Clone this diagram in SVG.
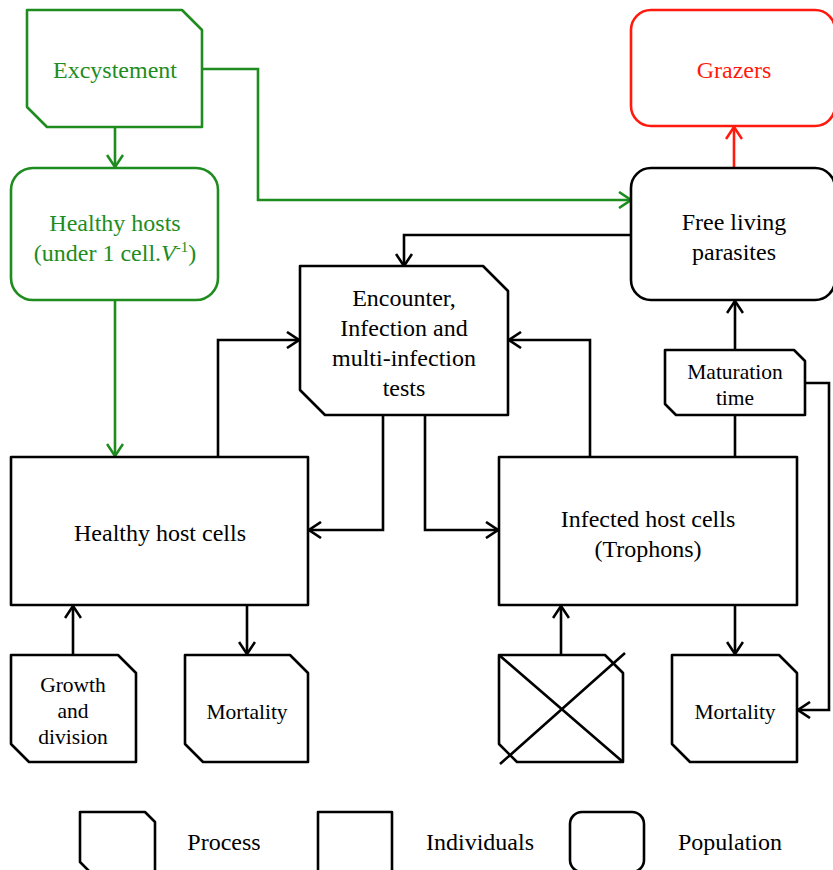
<svg xmlns="http://www.w3.org/2000/svg" width="833" height="870" viewBox="0 0 833 870">
<style>
text{font-family:"Times New Roman",Times,"Liberation Serif","Noto Serif","DejaVu Serif",Georgia,serif;text-anchor:middle;fill:#000}
.m{font-size:24px}
.s{font-size:21.5px}
.box{fill:#fff;stroke:#000;stroke-width:2.6;stroke-linejoin:round}
.g{stroke:#1e8c1e}
.r{stroke:#ff1a0d}
.gt{fill:#1e8c1e}
.rt{fill:#ff1a0d}
.c{fill:none;stroke:#000;stroke-width:2.6;stroke-linejoin:miter}
.cg{fill:none;stroke:#1e8c1e;stroke-width:2.6}
.cr{fill:none;stroke:#ff1a0d;stroke-width:2.6}
</style>
<defs>
<marker id="ak" viewBox="0 0 14 18" refX="13" refY="9" markerWidth="14" markerHeight="18" markerUnits="userSpaceOnUse" orient="auto"><path d="M1,1 L13,9 L1,17" fill="none" stroke="#000" stroke-width="2.6"/></marker>
<marker id="ag" viewBox="0 0 14 18" refX="13" refY="9" markerWidth="14" markerHeight="18" markerUnits="userSpaceOnUse" orient="auto"><path d="M1,1 L13,9 L1,17" fill="none" stroke="#1e8c1e" stroke-width="2.6"/></marker>
<marker id="ar" viewBox="0 0 14 18" refX="13" refY="9" markerWidth="14" markerHeight="18" markerUnits="userSpaceOnUse" orient="auto"><path d="M1,1 L13,9 L1,17" fill="none" stroke="#ff1a0d" stroke-width="2.6"/></marker>
</defs>

<g id="connectors">
<path class="cg" d="M115,127 V167" marker-end="url(#ag)"/>
<path class="cg" d="M115,300 V456" marker-end="url(#ag)"/>
<path class="cg" d="M202,69 H258 V200 H631" marker-end="url(#ag)"/>
<path class="cr" d="M734,168 V127" marker-end="url(#ar)"/>
<path class="c" d="M631,235 H404 V266" marker-end="url(#ak)"/>
<path class="c" d="M218,457 V340 H299" marker-end="url(#ak)"/>
<path class="c" d="M590,457 V340 H509" marker-end="url(#ak)"/>
<path class="c" d="M383,415 V530 H309" marker-end="url(#ak)"/>
<path class="c" d="M425,415 V530 H498" marker-end="url(#ak)"/>
<path class="c" d="M735,457 V415"/>
<path class="c" d="M735,350 V301" marker-end="url(#ak)"/>
<path class="c" d="M805,383 H829 V710 H798" marker-end="url(#ak)"/>
<path class="c" d="M73,655 V606" marker-end="url(#ak)"/>
<path class="c" d="M247,605 V654" marker-end="url(#ak)"/>
<path class="c" d="M561,655 V606" marker-end="url(#ak)"/>
<path class="c" d="M735,605 V654" marker-end="url(#ak)"/>
</g>

<g id="excystement">
<path class="box g" d="M27,10 H182 L202,30 V127 H47 L27,107 Z"/>
<text class="m gt" x="115" y="78">Excystement</text>
</g>

<g id="healthy-hosts">
<rect class="box g" x="11" y="168" width="207" height="132" rx="22"/>
<text class="m gt" x="115" y="231">Healthy hosts</text>
<text class="m gt" x="115" y="261">(under 1 cell.<tspan font-style="italic">V</tspan><tspan font-size="15" dy="-9">-1</tspan><tspan dy="9">)</tspan></text>
</g>

<g id="grazers">
<rect class="box r" x="631" y="10" width="204" height="116" rx="20"/>
<text class="m rt" x="734" y="78">Grazers</text>
</g>

<g id="free-living-parasites">
<rect class="box" x="631" y="168" width="204" height="132" rx="20"/>
<text class="m" x="734" y="230">Free living</text>
<text class="m" x="734" y="260">parasites</text>
</g>

<g id="encounter">
<path class="box" d="M300,266 H483 L508,291 V415 H325 L300,390 Z"/>
<text class="m" x="404" y="306">Encounter,</text>
<text class="m" x="404" y="336">Infection and</text>
<text class="m" x="404" y="366">multi-infection</text>
<text class="m" x="404" y="396">tests</text>
</g>

<g id="maturation-time">
<path class="box" d="M665,350 H794 L805,361 V415 H676 L665,404 Z"/>
<text class="s" x="735" y="379">Maturation</text>
<text class="s" x="735" y="405">time</text>
</g>

<g id="healthy-host-cells">
<rect class="box" x="11" y="457" width="297" height="148"/>
<text class="m" x="160" y="541">Healthy host cells</text>
</g>

<g id="infected-host-cells">
<rect class="box" x="499" y="457" width="298" height="148"/>
<text class="m" x="648" y="527">Infected host cells</text>
<text class="m" x="648" y="557">(Trophons)</text>
</g>

<g id="growth-division">
<path class="box" d="M11,655 H118 L136,673 V762 H29 L11,744 Z"/>
<text class="s" x="73" y="692">Growth</text>
<text class="s" x="73" y="718">and</text>
<text class="s" x="73" y="744">division</text>
</g>

<g id="mortality-healthy">
<path class="box" d="M185,655 H290 L308,673 V762 H203 L185,744 Z"/>
<text class="s" x="247" y="719">Mortality</text>
</g>

<g id="crossed-process">
<path class="box" d="M499,655 H605 L623,673 V762 H517 L499,744 Z"/>
<path class="c" d="M499,655 L623,762 M625,653 L500,764"/>
</g>

<g id="mortality-infected">
<path class="box" d="M672,655 H779 L797,673 V762 H690 L672,744 Z"/>
<text class="s" x="735" y="719">Mortality</text>
</g>

<g id="legend">
<path class="box" d="M80,812 H145 L155,822 V872 H90 L80,862 Z"/>
<text class="m" x="224" y="850">Process</text>
<rect class="box" x="318" y="812" width="74" height="60"/>
<text class="m" x="480" y="850">Individuals</text>
<rect class="box" x="570" y="812" width="74" height="60" rx="12"/>
<text class="m" x="730" y="850">Population</text>
</g>
</svg>
